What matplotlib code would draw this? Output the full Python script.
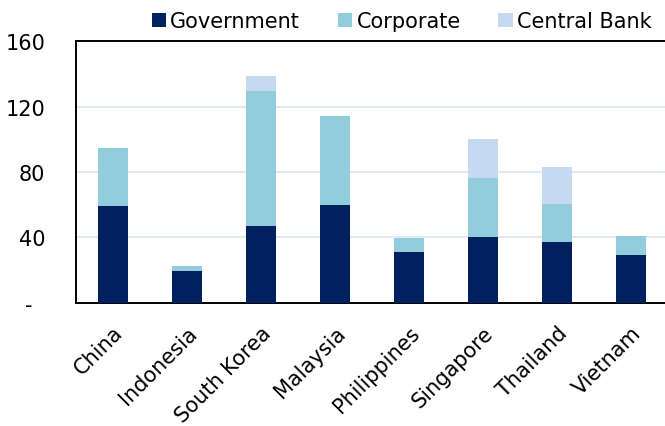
import matplotlib.pyplot as plt
import numpy as np

countries = ['China', 'Indonesia', 'South Korea', 'Malaysia',
             'Philippines', 'Singapore', 'Thailand', 'Vietnam']
government = [59, 19.5, 47, 60, 31, 40, 37, 29]
corporate = [35.5, 3, 82.5, 54, 8.5, 36.5, 23.5, 11.5]
central_bank = [0, 0, 9.5, 0, 0, 23.5, 22.5, 0]

y_ticks = [0, 40, 80, 120, 160]
y_labels = ['-  ', '40', '80', '120', '160']

plt.rcParams['font.family'] = ['DejaVu Sans Condensed', 'DejaVu Sans']
plt.rcParams['font.size'] = 15

fig = plt.figure(figsize=(6.65, 4.27), dpi=100)
ax = fig.add_axes([0.1143, 0.289, 0.89, 0.612])

x = np.arange(len(countries))
gov = np.array(government)
corp = np.array(corporate)
cb = np.array(central_bank)

ax.bar(x, gov, width=0.4, color='#002060', label='Government', zorder=3)
ax.bar(x, corp, width=0.4, bottom=gov, color='#92CDDC', label='Corporate', zorder=3)
ax.bar(x, cb, width=0.4, bottom=gov + corp, color='#C5D9F1', label='Central Bank', zorder=3)

ax.set_xlim(-0.5, len(countries) - 0.5)
ax.set_ylim(0, 160)
ax.set_yticks(y_ticks)
ax.set_yticklabels(y_labels)
ax.set_xticks(x)
ax.set_xticklabels(countries, rotation=45, ha='right', rotation_mode='anchor')
ax.tick_params(length=0)
ax.tick_params(axis='y', pad=22)
ax.tick_params(axis='x', pad=14)
ax.yaxis.grid(True, color='#DCE6F2', linewidth=1.2, zorder=0)

for side in ['left', 'bottom', 'top']:
    ax.spines[side].set_color('black')
    ax.spines[side].set_linewidth(1.4)
ax.spines['right'].set_visible(False)

fig.legend(loc='upper right', bbox_to_anchor=(1.008, 1.015), ncol=3, frameon=False,
           handlelength=0.7, handleheight=0.7, handletextpad=0.2, columnspacing=1.8)

fig.savefig('out.png', dpi=100)
